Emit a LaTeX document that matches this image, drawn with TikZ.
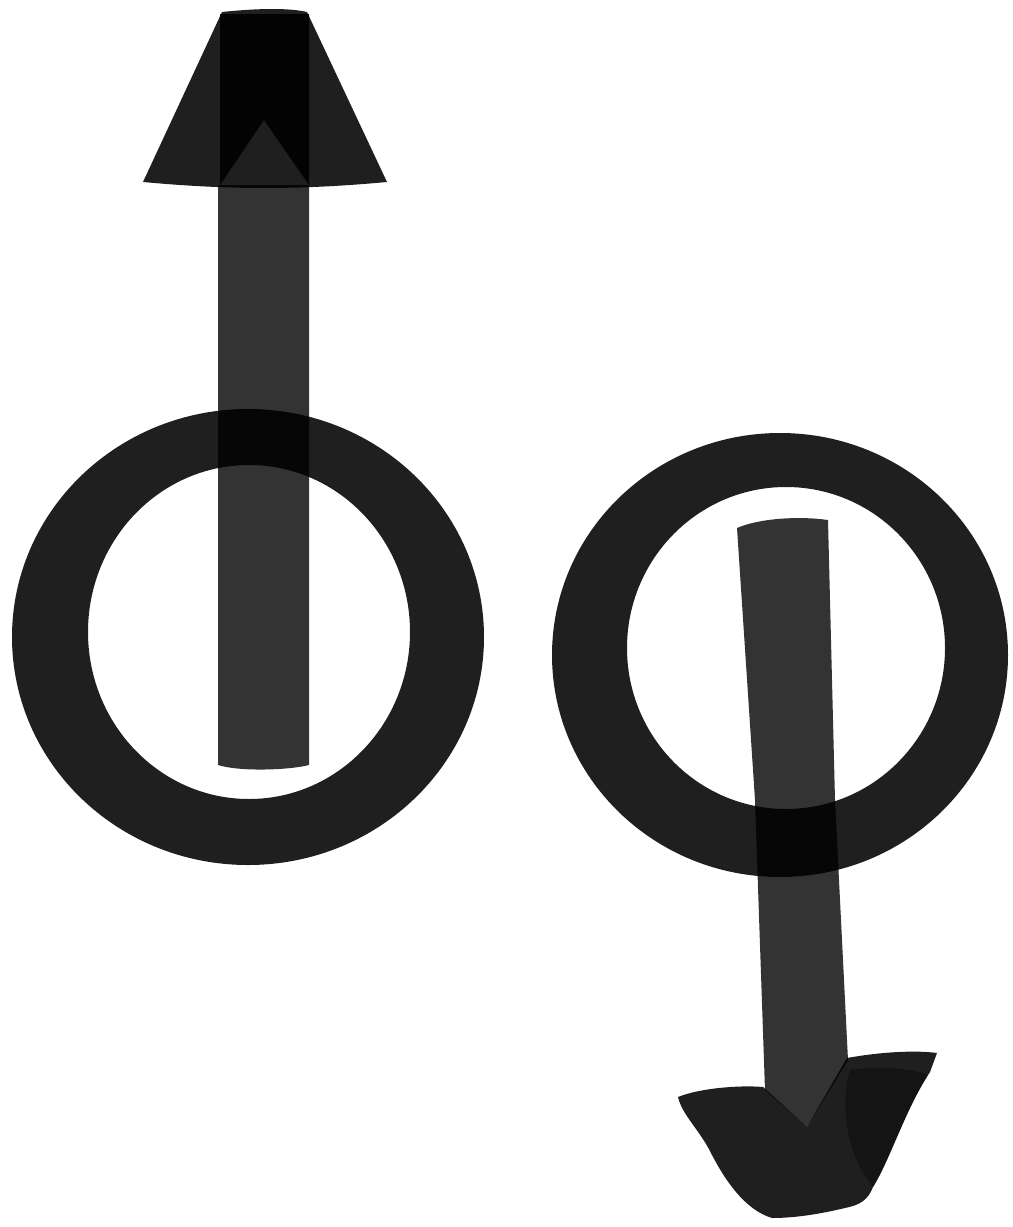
\documentclass[tikz,border=0pt]{standalone}
\begin{document}
\begin{tikzpicture}[x=0.01cm,y=-0.01cm,
  ringstyle/.style={fill=black,fill opacity=0.88,even odd rule},
  shaftstyle/.style={fill=black,fill opacity=0.80},
  headstyle/.style={fill=black,fill opacity=0.88},
  wingstyle/.style={fill=black,fill opacity=0.35}]
\fill[white] (0,0) rectangle (1013,1227);
\useasboundingbox (0,0) rectangle (1013,1227);
% left arrow
\path[shaftstyle] (218,185) -- (218,765) .. controls (240,772) and (290,770) .. (309,765) -- (309,185) -- cycle;
\path[headstyle] (222,12) .. controls (260,8) and (290,8) .. (307,12) -- (387,182) .. controls (300,190) and (230,190) .. (143,182) -- cycle;
\path[headstyle] (220,14) -- (309,14) -- (309,185) -- (264,120) -- (220,185) -- cycle;
% left ring
\path[ringstyle] (248,637) ellipse [x radius=236, y radius=228]
                 (249,632) ellipse [x radius=161, y radius=167];
% right ring
\path[ringstyle] (780,655) ellipse [x radius=228, y radius=222]
                 (786,648) ellipse [x radius=159, y radius=161];
% right arrow
\path[shaftstyle] (737,528) .. controls (760,518) and (800,516) .. (828,520) -- (835,800) -- (848,1060) -- (807,1127) -- (765,1090) -- (755,800) -- cycle;
\path[headstyle] (678,1097) .. controls (700,1088) and (740,1085) .. (763,1087) -- (807,1127) -- (847,1058) .. controls (880,1052) and (915,1050) .. (937,1053) -- (930,1072) .. controls (905,1110) and (890,1160) .. (873,1187) .. controls (868,1200) and (860,1205) .. (845,1208) .. controls (820,1214) and (795,1218) .. (772,1218) .. controls (745,1210) and (725,1180) .. (712,1155) .. controls (700,1130) and (682,1115) .. (678,1097) -- cycle;
\path[wingstyle] (850,1070) .. controls (880,1066) and (910,1068) .. (928,1075) .. controls (905,1110) and (890,1160) .. (873,1187) .. controls (850,1160) and (838,1110) .. (850,1070) -- cycle;
\end{tikzpicture}
\end{document}
